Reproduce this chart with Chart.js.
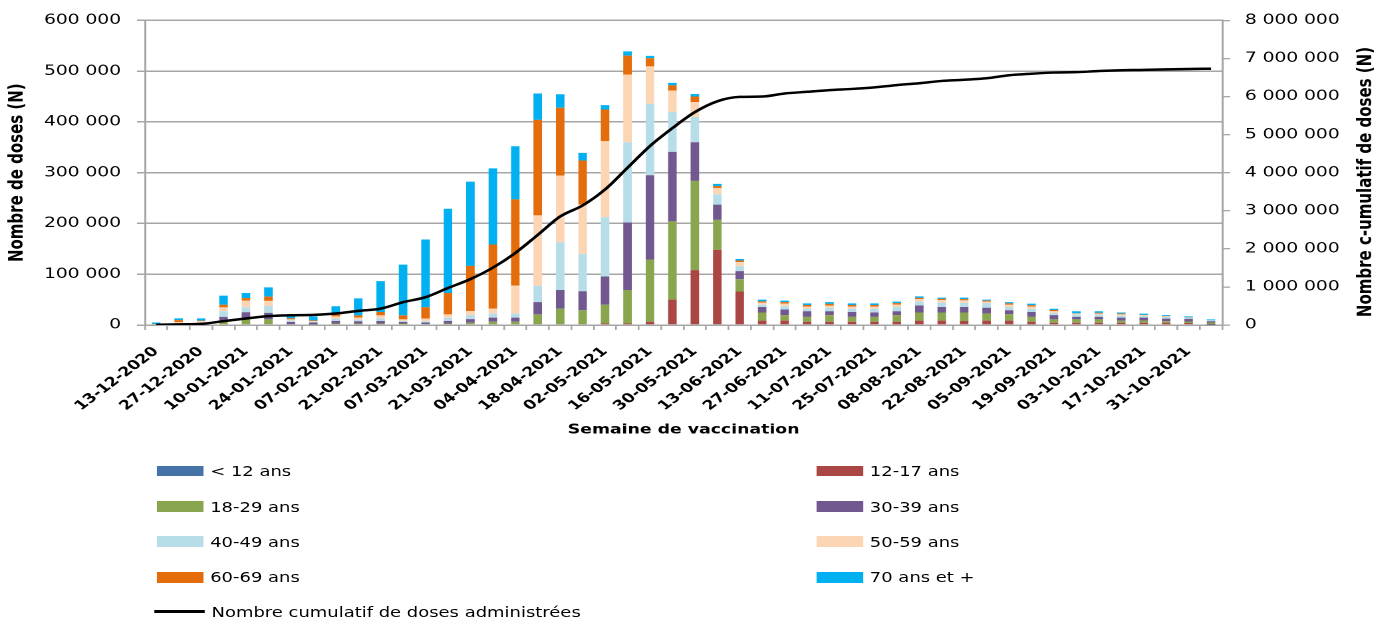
<!DOCTYPE html>
<html>
<head>
<meta charset="utf-8">
<script src="https://cdn.jsdelivr.net/npm/chart.js@4.4.0/dist/chart.umd.min.js"></script>
<style>
  html, body { margin: 0; padding: 0; background: #fff; overflow: hidden; }
  /* the reference is an Excel chart stretched sideways, so draw narrow and stretch */
  #wrap { position: absolute; left: 0; top: 0; width: 1051px; height: 622px; transform: scaleX(1.33); transform-origin: 0 0; }
  #legend { position: absolute; left: 0; top: 0; width: 1051px; height: 622px; font-family: "DejaVu Sans"; font-size: 13.5px; color: #000; }
  .item { position: absolute; display: flex; align-items: center; height: 20px; white-space: nowrap; }
  .box { width: 35px; height: 10.5px; margin-right: 5px; }
  .line { width: 38px; height: 2.5px; background: #000; margin-right: 5px; }
</style>
</head>
<body>
<div id="wrap">
  <canvas id="chart" width="1051" height="622"></canvas>
  <div id="legend"></div>
</div>
<script>
const weeks = ['13-12-2020','20-12-2020','27-12-2020','03-01-2021','10-01-2021','17-01-2021','24-01-2021','31-01-2021',
  '07-02-2021','14-02-2021','21-02-2021','28-02-2021','07-03-2021','14-03-2021','21-03-2021','28-03-2021',
  '04-04-2021','11-04-2021','18-04-2021','25-04-2021','02-05-2021','09-05-2021','16-05-2021','23-05-2021',
  '30-05-2021','06-06-2021','13-06-2021','20-06-2021','27-06-2021','04-07-2021','11-07-2021','18-07-2021',
  '25-07-2021','01-08-2021','08-08-2021','15-08-2021','22-08-2021','29-08-2021','05-09-2021','12-09-2021',
  '19-09-2021','26-09-2021','03-10-2021','10-10-2021','17-10-2021','24-10-2021','31-10-2021','07-11-2021'];

const ageLabels = ['< 12 ans','12-17 ans','18-29 ans','30-39 ans','40-49 ans','50-59 ans','60-69 ans','70 ans et +'];
const ageColors = ['#4572A7','#AA4643','#89A54E','#71588F','#B7DEE8','#FCD5B5','#E46C0A','#00B0F0'];

const under12 = [0,0,0,0,0,0,0,0,0,0, 0,0,0,0,0,0,0,0,0,0, 0,0,0,0,0,0,0,0,0,0, 0,0,0,0,0,0,0,0,0,0, 0,0,0,0,0,0,0,500];
const ages1217 = [0,0,0,0,0,0,0,0,0,0, 0,0,0,0,0,0,0,0,0,0,
  3000,3000,6500,50000,108000,148000,66000,8500,8500,6500,
  6500,6500,6500,6500,8500,8500,8000,8500,8500,6500,
  4500,4500,4500,4500,4500,4500,4000,1500];
const ages1829 = [0,500,500,7700,12000,11000,1500,1000,3000,3000,
  3000,3000,2000,3000,4500,6500,6500,21000,32000,29000,
  37000,66000,122500,154000,176000,59000,24000,16000,11000,9500,
  13000,9500,9500,13000,16000,16000,16500,14000,13000,9500,
  6500,6500,6500,4000,4000,3000,3000,3000];
const ages3039 = [0,1000,1000,8400,13000,13000,4500,4000,5000,4500,
  5000,3000,3000,5000,7000,8000,8000,24000,37000,37500,
  55500,133000,166000,137000,76000,30000,16000,11000,11000,11000,
  7500,9500,8500,7500,14000,11000,11000,11500,7500,9500,
  8500,5000,5000,6000,6000,5000,5000,2500];
const ages4049 = [500,1500,1500,11000,10000,13500,2500,1500,4500,3000,
  4500,2000,2500,6000,8000,8000,8000,32000,94000,73500,
  117000,158000,140500,79000,50000,20500,10000,4500,6500,5000,
  7000,6500,7500,8500,7500,8500,8000,9000,6500,6500,
  4500,4500,4500,4000,3000,3000,2000,1000];
const ages5059 = [500,3000,5000,7700,13000,10000,2500,1500,4500,4000,
  6500,3000,5000,7000,8000,10000,55000,139000,131500,97000,
  150000,133500,74000,42000,29000,12000,8000,4000,5000,4500,
  4500,4500,4500,5000,5000,5000,5000,3000,4500,4500,
  3000,2000,2000,2500,2000,1500,500,500];
const ages6069 = [1000,3500,500,5000,5000,8500,2000,1000,4000,4500,
  6500,8000,22500,42000,89000,126000,170000,188000,133500,87000,
  62000,37000,16000,10000,11000,4000,3000,2500,3000,3000,
  3000,3000,3000,2500,2500,2500,2500,2000,2500,2500,
  2500,500,1500,1500,500,500,500,0];
const ages70 = [3000,3500,4500,18000,10000,18000,8000,8000,16000,33500,
  61000,100000,133500,166000,166000,150000,104500,52000,26500,15000,
  8500,8500,4500,5000,5000,4500,3000,3500,3000,3000,
  3500,3000,3000,3000,3000,2500,3000,2000,2500,3000,
  2500,4000,3000,2000,2500,2000,2000,2000];
const cumulative = [5000,17000,30000,100000,170000,232000,255000,265000,301000,370000,
  430000,600000,731000,972000,1205000,1505000,1892000,2366000,2850000,3140000,
  3560000,4130000,4700000,5170000,5590000,5875000,5990000,6000000,6080000,6125000,
  6170000,6200000,6240000,6300000,6350000,6410000,6440000,6480000,6560000,6600000,
  6630000,6640000,6670000,6690000,6700000,6715000,6725000,6730000];

const ageSeries = [under12, ages1217, ages1829, ages3039, ages4049, ages5059, ages6069, ages70];
const lineLabel = 'Nombre cumulatif de doses administrées';

const gridGray = '#a6a6a6';
const font = '"DejaVu Sans"';

function spaced(v) {
    return String(v).replace(/\B(?=(\d{3})+(?!\d))/g, ' ');
}

const datasets = [{
    type: 'line',
    label: lineLabel,
    data: cumulative,
    yAxisID: 'y1',
    borderColor: '#000',
    borderWidth: 2.5,
    pointRadius: 0,
    cubicInterpolationMode: 'monotone',
    fill: false
}];
ageSeries.forEach((s, i) => {
    datasets.push({
        type: 'bar',
        label: ageLabels[i],
        data: s,
        yAxisID: 'y',
        backgroundColor: ageColors[i],
        borderWidth: 0,
        barPercentage: 0.38,
        categoryPercentage: 1
    });
});

// right axis title reads bottom to top, chart.js would turn it the other way
const rightTitle = {
    id: 'rightTitle',
    afterDraw(chart) {
        const ctx = chart.ctx;
        const s = chart.scales.y1;
        ctx.save();
        ctx.translate(s.right - 24, 182);
        ctx.rotate(-Math.PI / 2);
        ctx.font = 'bold 15px ' + font;
        ctx.fillStyle = '#000';
        ctx.textAlign = 'center';
        ctx.textBaseline = 'middle';
        ctx.fillText('Nombre c-umulatif de doses (N)', 0, 0);
        ctx.restore();
    }
};

new Chart(document.getElementById('chart'), {
    data: { labels: weeks, datasets: datasets },
    plugins: [rightTitle],
    options: {
        responsive: false,
        animation: false,
        devicePixelRatio: 2,
        layout: { padding: { left: 0, right: 0, top: 15, bottom: 184 } },
        plugins: {
            legend: { display: false },
            tooltip: { enabled: false }
        },
        scales: {
            x: {
                stacked: true,
                grid: { display: true, drawOnChartArea: false, offset: true, tickLength: 5, color: gridGray, lineWidth: 1.3 },
                border: { color: gridGray, width: 1.5 },
                ticks: {
                    autoSkip: false,
                    maxRotation: 45,
                    minRotation: 45,
                    padding: 14,
                    color: '#000',
                    font: { family: font, size: 13, weight: 'bold' },
                    callback: function(value, index) {
                        return index % 2 === 0 ? weeks[index] : '';
                    }
                },
                title: {
                    display: true,
                    text: 'Semaine de vaccination',
                    color: '#000',
                    font: { family: font, size: 13, weight: 'bold' },
                    padding: { top: 0, bottom: 0 }
                },
                afterFit: (scale) => { scale.height = 113; }
            },
            y: {
                stacked: true,
                position: 'left',
                min: 0,
                max: 600000,
                grid: { color: gridGray, lineWidth: 1.5, tickLength: 6 },
                border: { color: gridGray, width: 1.5 },
                ticks: {
                    stepSize: 100000,
                    padding: 12,
                    color: '#000',
                    font: { family: font, size: 14 },
                    callback: (v) => spaced(v)
                },
                title: {
                    display: true,
                    text: 'Nombre de doses (N)',
                    color: '#000',
                    font: { family: font, size: 15, weight: 'bold' },
                    padding: { top: 4, bottom: 0 }
                },
                afterFit: (scale) => { scale.width = 109; }
            },
            y1: {
                position: 'right',
                min: 0,
                max: 8000000,
                grid: { drawOnChartArea: false, color: gridGray, lineWidth: 1.3, tickLength: 6 },
                border: { color: gridGray, width: 1.5 },
                ticks: {
                    stepSize: 1000000,
                    padding: 11,
                    color: '#000',
                    font: { family: font, size: 14 },
                    callback: (v) => spaced(v)
                },
                afterFit: (scale) => { scale.width = 132; }
            }
        }
    }
});

// legend: two columns of age groups, then the cumulative line
const legend = document.getElementById('legend');
const colX = [118, 614];
const rowY = [471, 506.7, 541.7, 577.3];
ageLabels.forEach((label, i) => {
    const item = document.createElement('div');
    item.className = 'item';
    item.style.left = colX[i % 2] + 'px';
    item.style.top = (rowY[Math.floor(i / 2)] - 10) + 'px';
    item.innerHTML = `<span class="box" style="background:${ageColors[i]}"></span><span>${label.replace('<', '&lt;')}</span>`;
    legend.appendChild(item);
});
const lineItem = document.createElement('div');
lineItem.className = 'item';
lineItem.style.left = '116px';
lineItem.style.top = (611.7 - 10) + 'px';
lineItem.innerHTML = `<span class="line"></span><span>${lineLabel}</span>`;
legend.appendChild(lineItem);
</script>
</body>
</html>
